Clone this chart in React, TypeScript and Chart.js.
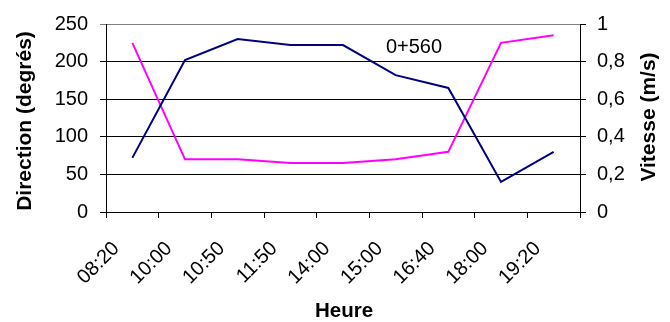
import React, { useEffect, useRef } from "react";
import { Chart, registerables } from "chart.js";

Chart.register(...registerables);

const heures = ["08:20", "10:00", "10:50", "11:50", "14:00", "15:00", "16:40", "18:00", "19:20"];
const direction = [72, 202, 230, 222, 222, 182, 165, 40, 80];
const vitesse = [0.9, 0.28, 0.28, 0.26, 0.26, 0.28, 0.32, 0.9, 0.94];

const FONT = "'Liberation Sans', Arial, sans-serif";

const titlesPlugin = {
  id: "titles",
  afterDraw(chart: any) {
    const ctx = chart.ctx;
    ctx.save();
    ctx.fillStyle = "#000";
    ctx.font = `bold 21px ${FONT}`;
    ctx.textAlign = "center";
    ctx.textBaseline = "alphabetic";
    // left title
    ctx.save();
    ctx.translate(31, 121);
    ctx.rotate(-Math.PI / 2);
    ctx.fillText("Direction (degrés)", 0, 0);
    ctx.restore();
    // right title
    ctx.save();
    ctx.translate(655, 117);
    ctx.rotate(-Math.PI / 2);
    ctx.fillText("Vitesse (m/s)", 0, 0);
    ctx.restore();
    // bottom title
    ctx.font = `bold 20.5px ${FONT}`;
    ctx.fillText("Heure", 344, 316.5);
    // annotation
    ctx.font = `20px ${FONT}`;
    ctx.fillText("0+560", 414, 52.5);
    ctx.restore();
  },
};

export default function App() {
  const ref = useRef<HTMLCanvasElement>(null);
  useEffect(() => {
    if (!ref.current) return;
    const chart = new Chart(ref.current, {
      type: "line",
      data: {
        labels: heures,
        datasets: [
          {
            label: "Direction",
            data: direction,
            borderColor: "#000080",
            backgroundColor: "#000080",
            borderWidth: 2,
            pointRadius: 0,
            tension: 0,
            yAxisID: "y",
          },
          {
            label: "Vitesse",
            data: vitesse,
            borderColor: "#FF00FF",
            backgroundColor: "#FF00FF",
            borderWidth: 2,
            pointRadius: 0,
            tension: 0,
            yAxisID: "y1",
          },
        ],
      },
      options: {
        animation: false,
        responsive: false,
        maintainAspectRatio: false,
        layout: { padding: { top: 20, left: 0, right: 0, bottom: 0 } },
        plugins: { legend: { display: false }, tooltip: { enabled: false } },
        scales: {
          x: {
            type: "category",
            offset: true,
            afterFit: (s: any) => {
              s.height = 110;
            },
            grid: { offset: true, drawOnChartArea: false, tickLength: 6, color: "#000", lineWidth: 1 },
            border: { color: "#000", width: 1 },
            ticks: {
              autoSkip: false,
              maxRotation: 45,
              minRotation: 45,
              padding: 19,
              labelOffset: -16,
              color: "#000",
              font: { family: FONT, size: 20 },
            },
          },
          y: {
            position: "left",
            min: 0,
            max: 250,
            afterFit: (s: any) => {
              s.width = 106;
            },
            grid: {
              tickLength: 6,
              lineWidth: 1,
              color: (c: any) => (c.tick && c.tick.value === 250 ? "#808080" : "#000"),
            },
            border: { color: "#000", width: 1 },
            ticks: {
              stepSize: 50,
              padding: 12,
              color: "#000",
              font: { family: FONT, size: 20 },
            },
          },
          y1: {
            position: "right",
            min: 0,
            max: 1,
            afterFit: (s: any) => {
              s.width = 90;
            },
            grid: { drawOnChartArea: false, tickLength: 6, color: "#000", lineWidth: 1 },
            border: { color: "#000", width: 1 },
            ticks: {
              stepSize: 0.2,
              padding: 11,
              color: "#000",
              font: { family: FONT, size: 20 },
              callback: (v: any) => String(Math.round(Number(v) * 10) / 10).replace(".", ","),
            },
          },
        },
      },
      plugins: [titlesPlugin],
    });
    return () => chart.destroy();
  }, []);
  return (
    <div style={{ position: "fixed", left: 0, top: 0, width: 670, height: 322, background: "#fff" }}>
      <canvas ref={ref} width={670} height={322} style={{ display: "block" }} />
    </div>
  );
}
